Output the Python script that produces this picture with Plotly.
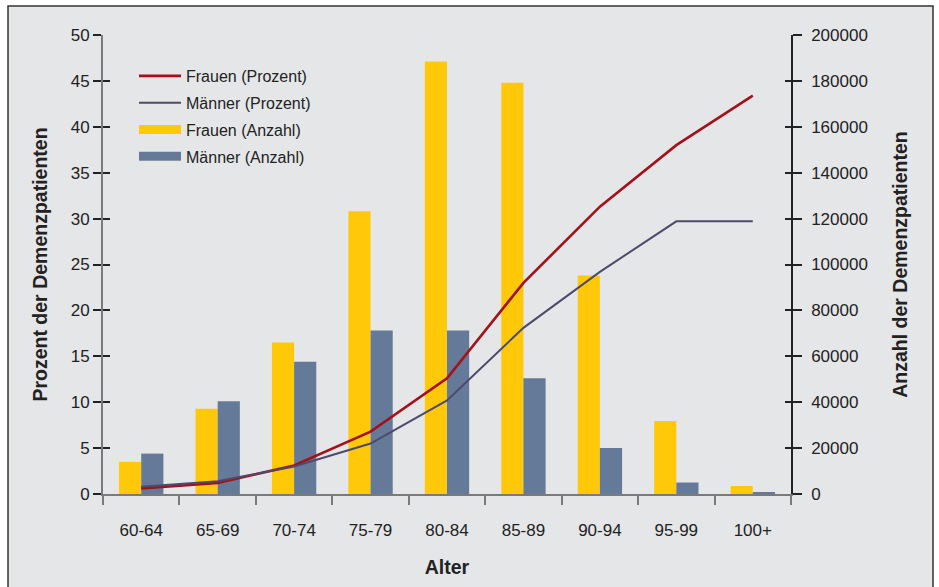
import plotly.graph_objects as go

alter = ["60-64", "65-69", "70-74", "75-79", "80-84", "85-89", "90-94", "95-99", "100+"]
frauen_prozent = [0.6, 1.2, 3.1, 6.8, 12.6, 23.0, 31.3, 38.0, 43.4]
maenner_prozent = [0.8, 1.4, 3.0, 5.5, 10.2, 18.1, 24.2, 29.7, 29.7]
frauen_anzahl = [14000, 37200, 66000, 123200, 188400, 179200, 95200, 31800, 3500]
maenner_anzahl = [17600, 40400, 57600, 71200, 71200, 50400, 20000, 5000, 600]

c_fr_line = "#a3111b"
c_ma_line = "#4e4a6c"
c_fr_bar = "#ffc90a"
c_ma_bar = "#647a98"
bg = "#e5e6e8"
txt = "#222222"

fig = go.Figure()

# lines (percent) on y2 (left side, drawn on top)
fig.add_trace(go.Scatter(x=alter, y=frauen_prozent, name="Frauen (Prozent)", mode="lines",
                         line=dict(color=c_fr_line, width=2.6), yaxis="y2", legendgroup="a"))
fig.add_trace(go.Scatter(x=alter, y=maenner_prozent, name="Männer (Prozent)", mode="lines",
                         line=dict(color=c_ma_line, width=2), yaxis="y2", legendgroup="b"))
# legend-only entries for bars
fig.add_trace(go.Scatter(x=[None], y=[None], name="Frauen (Anzahl)", mode="lines",
                         line=dict(color=c_fr_bar, width=9), yaxis="y2", legendgroup="c"))
fig.add_trace(go.Scatter(x=[None], y=[None], name="Männer (Anzahl)", mode="lines",
                         line=dict(color=c_ma_bar, width=9), yaxis="y2", legendgroup="d"))
# bars (counts) on y (right side)
fig.add_trace(go.Bar(x=alter, y=frauen_anzahl, name="Frauen (Anzahl)", marker_color=c_fr_bar,
                     marker_line_width=0, showlegend=False, yaxis="y", legendgroup="e"))
fig.add_trace(go.Bar(x=alter, y=maenner_anzahl, name="Männer (Anzahl)", marker_color=c_ma_bar,
                     marker_line_width=0, showlegend=False, yaxis="y", legendgroup="f"))
# empty helper traces so the inner tick axes are drawn
fig.add_trace(go.Scatter(x=[None], y=[None], yaxis="y3", showlegend=False, hoverinfo="skip",
                         legendgroup="g"))
fig.add_trace(go.Scatter(x=[None], y=[None], yaxis="y4", showlegend=False, hoverinfo="skip",
                         legendgroup="h"))

W, H = 939, 587
ml, mr, mt, mb = 103, 148, 35, 93
pw, ph = W - ml - mr, H - mt - mb

def px_x(p):
    return (p - ml) / pw

def px_y(p):
    return (H - mb - p) / ph

fig.update_layout(
    width=W, height=H,
    margin=dict(l=ml, r=mr, t=mt, b=mb, autoexpand=False),
    paper_bgcolor="white",
    plot_bgcolor="white",
    font=dict(family="Liberation Sans, Arial, sans-serif", size=17, color=txt),
    barmode="group",
    bargap=0.42,
    bargroupgap=0,
    showlegend=True,
    legend=dict(x=px_x(134), y=px_y(59), xanchor="left", yanchor="top",
                bgcolor=bg, font=dict(size=16, color=txt), tracegroupgap=3,
                traceorder="grouped", itemwidth=42),
    xaxis=dict(type="category", range=[-0.5, 8.5], tickson="boundaries",
               ticks="outside", ticklen=9, tickwidth=2, tickcolor="#7a7a7a",
               ticklabelstandoff=20,
               showline=True, linecolor="#7a7a7a", linewidth=2, showgrid=False,
               tickfont=dict(size=17, color=txt),
               title=dict(text="<b>Alter</b>", font=dict(size=19.5, color=txt), standoff=21)),
    yaxis=dict(side="right", range=[0, 200000], dtick=20000, tickformat="d",
               ticks="outside", ticklen=9, ticklabelstandoff=6,
               tickwidth=1.5, tickcolor="#222", showline=True, linecolor="#222", linewidth=1.5,
               showgrid=False, zeroline=False, tickfont=dict(size=17, color=txt),
               title=dict(text="<b>Anzahl der Demenzpatienten</b>", font=dict(size=19.5, color=txt),
                          standoff=26)),
    yaxis2=dict(side="left", overlaying="y", range=[0, 50], dtick=5, ticks="outside", ticklen=8,
                tickwidth=1.5, tickcolor="#222", showline=True, linecolor="#7a7a7a", linewidth=2,
                showgrid=False, zeroline=False, tickfont=dict(size=17, color=txt),
                title=dict(text="<b>Prozent der Demenzpatienten</b>", font=dict(size=19.5, color=txt),
                           standoff=18)),
    yaxis3=dict(side="left", overlaying="y", range=[0, 50], dtick=5, ticks="inside", ticklen=7,
                tickwidth=1.5, tickcolor="#222", showline=False, showgrid=False, zeroline=False,
                showticklabels=False),
    yaxis4=dict(side="right", overlaying="y", range=[0, 200000], dtick=20000, ticks="inside",
                ticklen=6, tickwidth=1.5, tickcolor="#222", showline=False, showgrid=False,
                zeroline=False, showticklabels=False),
    shapes=[dict(type="rect", xref="paper", yref="paper", layer="below",
                 x0=px_x(8), x1=px_x(933), y0=px_y(600), y1=px_y(6),
                 fillcolor=bg, line=dict(color="#333", width=1.5))],
)

fig.write_html("out.html")
